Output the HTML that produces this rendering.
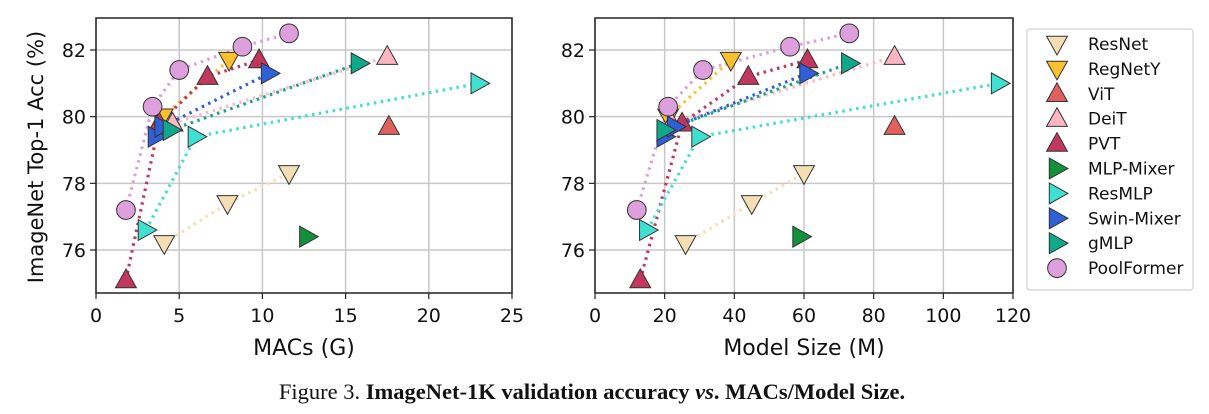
<!DOCTYPE html>
<html><head><meta charset="utf-8"><style>
body{margin:0;background:#fff;width:1209px;height:409px;overflow:hidden}
svg{font-family:"DejaVu Sans","Liberation Sans",sans-serif}
</style></head><body>
<svg id="c" width="1209" height="409" viewBox="0 0 1209 409"></svg>
<script>
const names=["ResNet","RegNetY","ViT","DeiT","PVT","MLP-Mixer","ResMLP","Swin-Mixer","gMLP","PoolFormer"];
const colors=["#f5deb3","#fbc02d","#e0605e","#ffb6c1","#c2375e","#12913a","#40e0d0","#3060d8","#10a88a","#dda0dd"];
const shapes=["down","down","up","up","up","right","right","right","right","circle"];
const macs=[[4.1,7.9,11.6],[4.0,8.0],[17.6],[4.6,17.5],[1.8,3.8,6.7,9.8],[12.7],[3.0,6.0,23.0],[3.6,4.0,10.4],[4.5,15.8],[1.8,3.4,5.0,8.8,11.6]];
const params=[[26,45,60],[21,39],[86],[22,86],[13,25,44,61],[59],[15,30,116],[20,23,61],[20,73],[12,21,31,56,73]];
const acc=[[76.2,77.4,78.3],[80.0,81.7],[79.7],[79.8,81.8],[75.1,79.8,81.2,81.7],[76.4],[76.6,79.4,81.0],[79.4,79.7,81.3],[79.6,81.6],[77.2,80.3,81.4,82.1,82.5]];
const xticks1=[0,5,10,15,20,25], xticks2=[0,20,40,60,80,100,120], yticks=[76,78,80,82];
const NS="http://www.w3.org/2000/svg", svg=document.getElementById('c');
function el(t,a,p){const e=document.createElementNS(NS,t);for(const k in a)e.setAttribute(k,a[k]);(p||svg).appendChild(e);return e;}
function yS(v){return 250-(v-76)*33.33;}
function marker(g,s,x,y,c,r){
 let e;
 if(s==="circle")e=el('circle',{cx:x,cy:y,r:r*0.85},g);
 else{let p;
  if(s==="up")p=[[x,y-r],[x-r*0.95,y+r*0.7],[x+r*0.95,y+r*0.7]];
  else if(s==="down")p=[[x,y+r],[x-r*0.95,y-r*0.7],[x+r*0.95,y-r*0.7]];
  else p=[[x+r,y],[x-r*0.7,y-r*0.95],[x-r*0.7,y+r*0.95]];
  e=el('polygon',{points:p.map(q=>q.join(',')).join(' ')},g);}
 e.setAttribute('fill',c);e.setAttribute('stroke','#333');e.setAttribute('stroke-width','1');return e;
}
function panel(id,x0,x1,xmax,xs,xticks,xlabel){
 const xS=v=>x0+(x1-x0)*v/xmax;
 const g=el('g',{});
 
 
 xticks.forEach(t=>{const x=xS(t);el('line',{x1:x,x2:x,y1:18,y2:293,stroke:'#c8c8c8','stroke-width':1.5},g);
  el('line',{x1:x,x2:x,y1:293,y2:299,stroke:'#222','stroke-width':1.2},g);
  const tx=el('text',{x:x,y:322,'text-anchor':'middle','font-size':19,fill:'#111'},g);tx.textContent=t;
  });
 yticks.forEach(t=>{const y=yS(t);el('line',{x1:x0,x2:x1,y1:y,y2:y,stroke:'#c8c8c8','stroke-width':1.5},g);
  el('line',{x1:x0-6,x2:x0,y1:y,y2:y,stroke:'#222','stroke-width':1.2},g);
  const tx=el('text',{x:x0-10,y:y+7,'text-anchor':'end','font-size':19,fill:'#111'},g);tx.textContent=t;
  });
 names.forEach((n,i)=>{if(xs[i].length<2)return;
  const pl=el('polyline',{points:xs[i].map((v,j)=>xS(v)+','+yS(acc[i][j])).join(' '),fill:'none',stroke:colors[i],'stroke-width':3.2,'stroke-dasharray':'2.5 4.5','stroke-linecap':'butt'},g);
  });
 names.forEach((n,i)=>{xs[i].forEach((v,j)=>{const m=marker(g,shapes[i],xS(v),yS(acc[i][j]),colors[i],11);
  });});
 const fr=el('rect',{x:x0,y:18,width:x1-x0,height:275,fill:'none',stroke:'#222','stroke-width':1.5},g);
 
 const xl=el('text',{x:(x0+x1)/2,y:355,'text-anchor':'middle','font-size':22,fill:'#111'},g);xl.textContent=xlabel;
 
}
panel('macs',96,512,25,macs,xticks1,'MACs (G)');
panel('size',595,1013,120,params,xticks2,'Model Size (M)');
const yl=el('text',{x:0,y:0,'text-anchor':'middle','font-size':21,fill:'#111',transform:'translate(43,157) rotate(-90)'});
yl.textContent='ImageNet Top-1 Acc (%)';

const lg=el('g',{});

el('rect',{x:1027,y:29,width:166,height:261,rx:3,fill:'#fff',stroke:'#d0d0d0','stroke-width':1.2},lg);
names.forEach((n,i)=>{const y=44+i*24.9;
 const m=marker(lg,shapes[i],1057,y,colors[i],11);
 
 const t=el('text',{x:1088,y:y+6,'font-size':17,fill:'#111'},lg);t.textContent=n;
 });
const cap=el('text',{x:592,y:399,'text-anchor':'middle','font-size':22.5,fill:'#111','font-family':'"Liberation Serif",serif'});

cap.innerHTML='Figure 3. <tspan font-weight="bold">ImageNet-1K validation accuracy </tspan><tspan font-weight="bold" font-style="italic">vs</tspan><tspan font-weight="bold">. MACs/Model Size.</tspan>';
</script>
</body></html>
